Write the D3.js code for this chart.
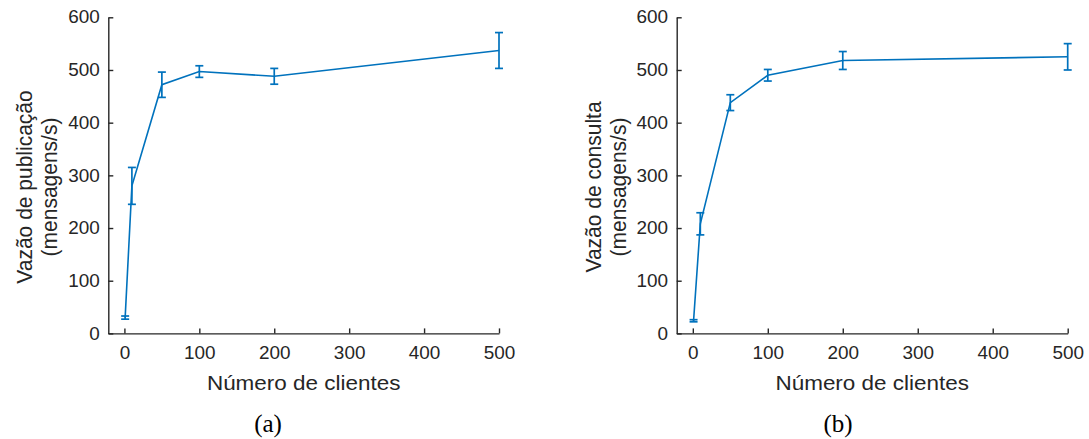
<!DOCTYPE html>
<html>
<head>
<meta charset="utf-8">
<script src="https://cdn.jsdelivr.net/npm/d3@7"></script>
<style>
  body { margin: 0; background: #fff; }
  svg { display: block; }
</style>
</head>
<body>
<div class="chart"></div>
<script>
// data
const clients = [1, 10, 50, 100, 200, 500];
const pubMean = [30, 280, 472, 497, 488, 537];
const pubErr = [3, 35, 24, 11, 15, 34];
const conMean = [24, 208, 438, 490, 518, 525];
const conErr = [2, 21, 15, 11, 17, 25];
const xTicks = [0, 100, 200, 300, 400, 500];
const yTicks = [0, 100, 200, 300, 400, 500, 600];

// constants
const width = 1089;
const height = 439;
const stretch = 1.07;   // the picture is a bit wider than tall
const line_color = "#0072BD";
const axis_color = "#262626";
const sans = "'Liberation Sans', Arial, sans-serif";

const svg = d3.select(".chart").append("svg")
    .attr("width", width)
    .attr("height", height);

const y_scale = d3.scaleLinear()
    .domain([0, 600])
    .range([333.4, 17.3]);

function drawPanel(left, right, means, errs, label1, caption, capX) {
    const g = svg.append("g");

    const x_scale = d3.scaleLinear()
        .domain([-21.5, 500])
        .range([left, right]);

    // x axis
    const x_axis = d3.axisBottom(x_scale)
        .tickValues(xTicks)
        .tickSizeInner(-5)
        .tickSizeOuter(0)
        .tickPadding(13.5);
    const gx = g.append("g")
        .attr("transform", "translate(0," + y_scale(0) + ")")
        .call(x_axis);

    // y axis
    const y_axis = d3.axisLeft(y_scale)
        .tickValues(yTicks)
        .tickSizeInner(-5)
        .tickSizeOuter(0)
        .tickPadding(8);
    const gy = g.append("g")
        .attr("transform", "translate(" + left + ",0)")
        .call(y_axis);

    [gx, gy].forEach(function(a) {
        a.select(".domain").attr("stroke", axis_color).attr("stroke-width", 1.4);
        a.selectAll(".tick line").attr("stroke", axis_color).attr("stroke-width", 1.4);
        a.selectAll(".tick text")
            .attr("fill", axis_color)
            .style("font-family", sans)
            .style("font-size", "17.7px")
            .attr("transform", "scale(" + stretch + ",1)");
    });

    // x label
    g.append("text")
        .attr("transform", "translate(" + ((left + right) / 2) + ",390) scale(" + stretch + ",1)")
        .attr("text-anchor", "middle")
        .attr("fill", axis_color)
        .style("font-family", sans)
        .style("font-size", "21px")
        .text("Número de clientes");

    // y label, two lines
    const ylab = [label1, "(mensagens/s)"];
    const ylabX = [left - 76, left - 51];
    ylab.forEach(function(t, i) {
        g.append("text")
            .attr("transform", "translate(" + ylabX[i] + ",187) scale(" + stretch + ",1) rotate(-90)")
            .attr("text-anchor", "middle")
            .attr("fill", axis_color)
            .style("font-family", sans)
            .style("font-size", "21px")
            .text(t);
    });

    // data line
    const pts = clients.map(function(c, i) {
        return { x: c, y: means[i], e: errs[i] };
    });
    const line = d3.line()
        .x(function(d) { return x_scale(d.x); })
        .y(function(d) { return y_scale(d.y); });
    g.append("path")
        .datum(pts)
        .attr("d", line)
        .attr("fill", "none")
        .attr("stroke", line_color)
        .attr("stroke-width", 1.6);

    // error bars
    const cap = 4;
    const bars = g.selectAll(".err")
        .data(pts).enter()
        .append("g")
        .attr("class", "err")
        .attr("stroke", line_color)
        .attr("stroke-width", 1.7);
    bars.append("line")
        .attr("x1", function(d) { return x_scale(d.x); })
        .attr("x2", function(d) { return x_scale(d.x); })
        .attr("y1", function(d) { return y_scale(d.y - d.e); })
        .attr("y2", function(d) { return y_scale(d.y + d.e); });
    bars.append("line")
        .attr("x1", function(d) { return x_scale(d.x) - cap; })
        .attr("x2", function(d) { return x_scale(d.x) + cap; })
        .attr("y1", function(d) { return y_scale(d.y + d.e); })
        .attr("y2", function(d) { return y_scale(d.y + d.e); });
    bars.append("line")
        .attr("x1", function(d) { return x_scale(d.x) - cap; })
        .attr("x2", function(d) { return x_scale(d.x) + cap; })
        .attr("y1", function(d) { return y_scale(d.y - d.e); })
        .attr("y2", function(d) { return y_scale(d.y - d.e); });

    // caption
    svg.append("text")
        .attr("x", capX)
        .attr("y", 432)
        .attr("text-anchor", "middle")
        .attr("fill", "#000")
        .style("font-family", "'Liberation Serif', 'Times New Roman', serif")
        .style("font-size", "25px")
        .text(caption);
}

drawPanel(108.3, 499, pubMean, pubErr, "Vazão de publicação", "(a)", 268);
drawPanel(676.7, 1067.7, conMean, conErr, "Vazão de consulta", "(b)", 838);
</script>
</body>
</html>
